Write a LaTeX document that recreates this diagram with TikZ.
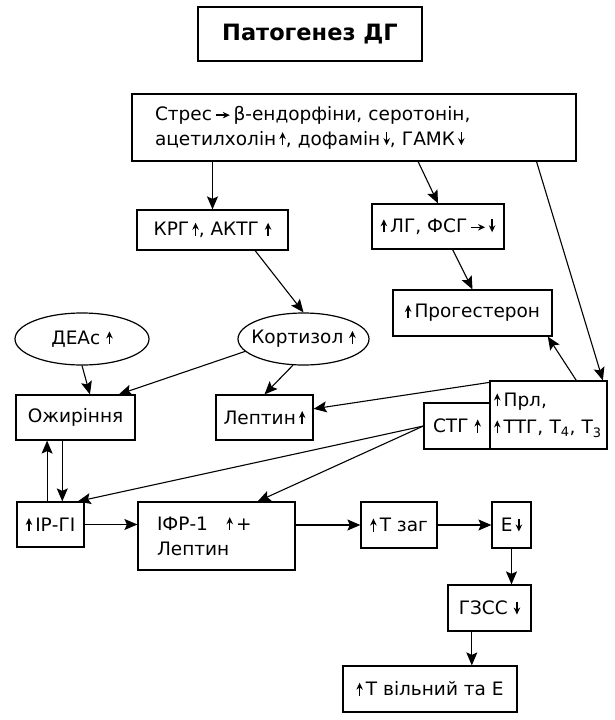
\documentclass[tikz,border=0pt]{standalone}
\usepackage{fontspec}
\setmainfont{DejaVu Sans}
\usetikzlibrary{arrows.meta,shapes.geometric,calc}
\newcommand\myup{\tikz[baseline=0pt,x=1pt,y=1pt]\draw[line width=1.4pt,-{Stealth[length=7pt,width=6.5pt]}](0pt,0pt)--(0pt,13pt);}
\newcommand\mydn{\tikz[baseline=0pt,x=1pt,y=1pt]\draw[line width=1.4pt,-{Stealth[length=7pt,width=6.5pt]}](0pt,13pt)--(0pt,0pt);}
\newcommand\myrt{\tikz[baseline=0pt,x=1pt,y=1pt]\draw[line width=1.4pt,-{Stealth[length=7pt,width=6.5pt]}](0pt,5pt)--(14pt,5pt);}
\begin{document}
\begin{tikzpicture}[x=1pt,y=-1pt,
  bx/.style={draw,line width=1.2pt,inner sep=0pt,font=\fontsize{18.5}{25}\selectfont},
  ell/.style={draw,ellipse,line width=1.2pt,inner sep=0pt,font=\fontsize{18.5}{25}\selectfont},
  con/.style={line width=1.1pt,-{Stealth[length=13pt,width=11pt,inset=2.5pt]}}]
\useasboundingbox (0,0) rectangle (615,720);
% nodes
\node[bx,minimum width=224pt,minimum height=54pt,font=\fontsize{22.5}{26}\selectfont\bfseries] (title) at (310,34) {Патогенез ДГ};
\node[bx,minimum width=444pt,minimum height=67pt,text width=398pt,align=left] (top) at (354,127.5)
  {Стрес\,\myrt\,β-ендорфіни, серотонін,\\ацетилхолін\,\myup, дофамін\,\mydn, ГАМК\,\mydn};
\node[bx,minimum width=151pt,minimum height=40pt] (krg) at (212.5,230) {КРГ\,\myup, АКТГ \myup};
\node[bx,minimum width=132pt,minimum height=45pt] (lg) at (438,226.5) {\myup\,ЛГ, ФСГ\,\myrt\,\mydn};
\node[bx,minimum width=159pt,minimum height=46pt] (prog) at (472.5,313) {\myup\,Прогестерон};
\node[ell,minimum width=134pt,minimum height=52pt] (deas) at (82,339) {\makebox[0pt]{ДЕАс \myup}};
\node[ell,minimum width=131pt,minimum height=52pt] (kort) at (303.5,339) {\makebox[0pt]{Кортизол \myup}};
\node[bx,minimum width=119pt,minimum height=45pt] (ozh) at (75.5,417.5) {Ожиріння};
\node[bx,minimum width=97pt,minimum height=45pt] (lep) at (264.5,417.5) {Лептин\,\myup};
\node[bx,minimum width=117pt,minimum height=68pt,text width=109pt,align=left,font=\fontsize{18.5}{27}\selectfont] (prl) at (548.5,415)
  {\myup\,Прл,\\\myup\,ТТГ, Т\textsubscript{4}, Т\textsubscript{3}};
\node[bx,minimum width=66pt,minimum height=46pt] (stg) at (457,426) {СТГ \myup};
\node[bx,minimum width=67pt,minimum height=45pt] (ir) at (50.5,524.5) {\myup\,ІР-ГІ};
\node[bx,minimum width=157pt,minimum height=68pt,text width=119pt,align=left] (ifr) at (216.5,536) {ІФР-1\quad\myup\,+\\Лептин};
\node[bx,minimum width=76pt,minimum height=46pt] (tzag) at (399,525) {\myup\,Т заг};
\node[bx,minimum width=39pt,minimum height=46pt] (e) at (511.5,525) {Е\,\mydn};
\node[bx,minimum width=83pt,minimum height=46pt] (gzss) at (489.5,608) {ГЗСС \mydn};
\node[bx,minimum width=174pt,minimum height=46pt] (tvil) at (430,689) {\myup\,Т вільний та Е};
% connectors
\draw[con] (top.south -| krg.north) -- (krg.north);
\draw[con] ($(top.south west)!0.644!(top.south east)$) -- (lg.north);
\draw[con] ($(top.south west)!0.91!(top.south east)$) -- ($(prl.north west)!0.96!(prl.north east)$);
\draw[con] ($(krg.south west)!0.78!(krg.south east)$) -- (kort.north);
\draw[con] ($(lg.south west)!0.61!(lg.south east)$) -- (prog.north);
\draw[con] ($(prl.north west)!0.735!(prl.north east)$) -- ($(prog.south west)!0.97!(prog.south east)$);
\draw[con] (deas.south) -- ($(ozh.north west)!0.62!(ozh.north east)$);
\draw[con] (kort.192) -- ($(ozh.north west)!0.86!(ozh.north east)$);
\draw[con] (kort.248) -- (lep.north);
\draw[con] ($(prl.north west)+(0,2)$) -- (lep.10);
\draw[con] (stg.west) -- ($(ir.north west)!0.9!(ir.north east)$);
\draw[con] (stg.west) -- ($(ifr.north west)!0.76!(ifr.north east)$);
\draw[con] ($(ir.north west)!0.45!(ir.north east)$) coordinate (u1) -- (u1 |- ozh.south);
\draw[con] ($(ozh.south west)!0.39!(ozh.south east)$) coordinate (d1) -- (d1 |- ir.north);
\draw[con] (ir.east) -- (ifr.west |- ir.east);
\draw[con] (ifr.east |- tzag.west) -- (tzag.west);
\draw[con] (tzag.east) -- (e.west);
\draw[con] (e.south) -- (e.south |- gzss.north);
\draw[con] ($(gzss.south west)!0.29!(gzss.south east)$) coordinate (g1) -- (g1 |- tvil.north);
\end{tikzpicture}
\end{document}
